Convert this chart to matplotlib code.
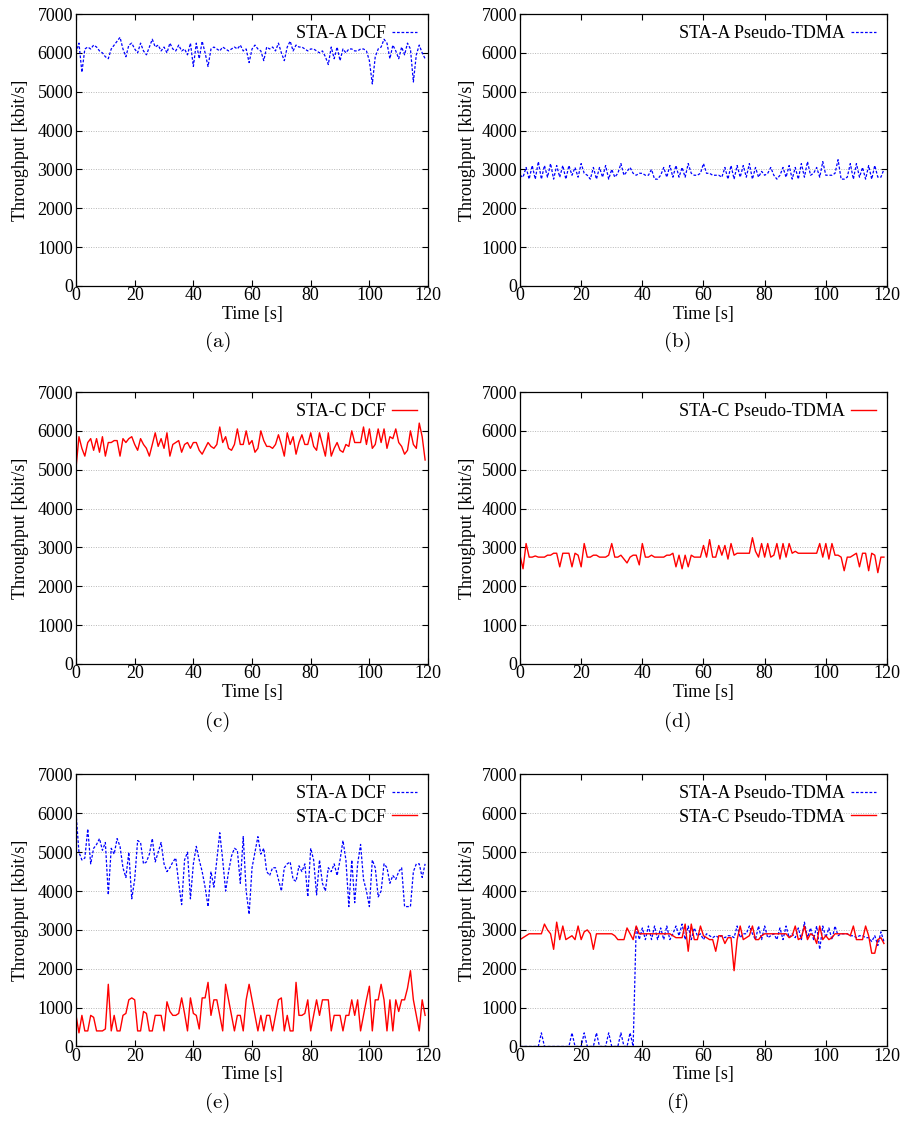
import matplotlib.pyplot as plt
import numpy as np

plt.rcParams['font.family'] = ['Liberation Serif', 'DejaVu Serif']
plt.rcParams['font.size'] = 13

# time axis, one sample per second
t = np.arange(120)

# (a) STA-A, DCF
sta_a_dcf = [6000, 6250, 5500, 6100, 6150, 6100, 6200, 6150, 6050, 6000,
             5900, 5850, 6100, 6200, 6300, 6400, 6100, 5900, 6200, 6250,
             6100, 6000, 6250, 6050, 5950, 6150, 6350, 6150, 6200, 6050,
             6150, 6000, 6250, 6100, 6050, 6200, 6050, 6100, 5950, 6250,
             5650, 6250, 5850, 6300, 6000, 5650, 6100, 6150, 6100, 6050,
             6150, 6100, 6050, 6100, 6150, 6100, 6200, 6050, 6100, 5750,
             6100, 6200, 6100, 6050, 5800, 6150, 6100, 6150, 6050, 6250,
             6000, 5800, 6150, 6300, 6050, 6200, 6150, 6150, 6100, 6050,
             6100, 6100, 6050, 6000, 6050, 5900, 5700, 6150, 5850, 6150,
             5800, 6100, 6000, 6100, 6100, 6050, 6050, 6100, 6100, 6050,
             5800, 5200, 5900, 6100, 6150, 6350, 6250, 5850, 6200, 6050,
             5850, 6150, 5950, 6250, 6100, 5250, 5950, 6200, 6000, 5850]

# (b) STA-A, Pseudo-TDMA
sta_a_tdma = [2850, 2800, 3050, 2750, 3100, 2750, 3200, 2750, 3100, 2800,
              3150, 2750, 3100, 2800, 3100, 2750, 3100, 2850, 3050, 2800,
              3150, 2900, 2850, 2750, 3050, 2750, 3050, 2800, 3100, 2750,
              3000, 2800, 2900, 3150, 2850, 2950, 3050, 2900, 2850, 2900,
              2900, 2850, 2850, 3000, 2750, 2750, 2850, 3050, 2800, 3100,
              2800, 3100, 2800, 3050, 2800, 3150, 2900, 2850, 2850, 2900,
              3150, 2900, 2900, 2850, 2850, 2850, 2800, 3050, 2750, 3100,
              2750, 3100, 2800, 3100, 2800, 3150, 2750, 3050, 2800, 2950,
              2850, 2900, 3050, 2850, 2750, 2850, 3050, 2800, 3100, 2750,
              3050, 2750, 3150, 2800, 3200, 2850, 2900, 3050, 2800, 3200,
              2850, 2850, 2850, 2900, 3250, 2750, 2750, 2800, 3150, 2750,
              3150, 2800, 3050, 2750, 3100, 2750, 3100, 2800, 2800, 3000]

# (c) STA-C, DCF
sta_c_dcf = [5050, 5850, 5550, 5350, 5700, 5800, 5500, 5800, 5450, 5850,
             5350, 5700, 5700, 5750, 5750, 5350, 5800, 5700, 5800, 5850,
             5650, 5500, 5800, 5650, 5550, 5350, 5650, 5950, 5600, 5800,
             5550, 5950, 5350, 5650, 5700, 5750, 5450, 5650, 5700, 5550,
             5700, 5700, 5500, 5400, 5550, 5700, 5600, 5550, 5650, 6100,
             5700, 5850, 5550, 5500, 5650, 6050, 5650, 5650, 6000, 5650,
             5750, 5450, 5550, 6000, 5750, 5600, 5600, 5550, 5650, 5900,
             5650, 5350, 5950, 5650, 5850, 5400, 5700, 5900, 5650, 5650,
             5950, 5600, 5500, 5950, 5650, 5350, 5950, 5350, 5550, 5700,
             5500, 5450, 5650, 5600, 6000, 5700, 5700, 5700, 6100, 5650,
             6050, 5550, 5650, 6050, 5700, 6050, 5550, 5850, 5800, 6050,
             5700, 5600, 5400, 5500, 6000, 5650, 5550, 6200, 5850, 5250]

# (d) STA-C, Pseudo-TDMA
sta_c_tdma = [2800, 2450, 3100, 2750, 2750, 2780, 2750, 2750, 2750, 2800,
              2800, 2850, 2850, 2500, 2850, 2850, 2850, 2500, 2850, 2800,
              2500, 3100, 2750, 2750, 2800, 2800, 2750, 2750, 2750, 2800,
              3100, 2750, 2750, 2800, 2700, 2600, 2750, 2800, 2800, 2550,
              3100, 2750, 2750, 2800, 2750, 2750, 2750, 2750, 2800, 2800,
              2850, 2500, 2800, 2450, 2800, 2500, 2800, 2750, 2750, 2750,
              3050, 2750, 3200, 2750, 2750, 3050, 2800, 3050, 2700, 3100,
              2800, 2850, 2850, 2850, 2850, 2850, 3250, 2900, 2750, 3100,
              2750, 3100, 2750, 2800, 3100, 2700, 3100, 2750, 3100, 2850,
              2900, 2850, 2850, 2850, 2850, 2850, 2850, 2850, 3100, 2750,
              3100, 2700, 3100, 2800, 2800, 2750, 2400, 2750, 2750, 2800,
              2850, 2500, 2850, 2850, 2400, 2850, 2800, 2350, 2750, 2750]

# (e) both stations, DCF
mix_a_dcf = [6000, 5000, 4800, 4850, 5600, 4700, 5100, 5200, 5350, 5050,
             5250, 3900, 5100, 4950, 5350, 5150, 4600, 4350, 5000, 3800,
             4300, 5300, 5250, 4700, 4750, 4950, 5350, 4750, 5000, 5250,
             4700, 4500, 4600, 4750, 4850, 4200, 3650, 4800, 5000, 3800,
             4700, 5150, 4800, 4500, 4100, 3600, 4500, 4100, 4800, 5500,
             4800, 4000, 4500, 4900, 5100, 5050, 4200, 5400, 4000, 3400,
             4600, 5000, 5400, 4950, 5100, 4500, 4400, 4600, 4600, 4300,
             4000, 4600, 4700, 4750, 4300, 4250, 4650, 4500, 4700, 3850,
             5100, 4800, 3900, 4800, 4200, 4000, 4600, 4500, 4700, 4400,
             4800, 5300, 4800, 3600, 4800, 3700, 4700, 5200, 4300, 4000,
             3600, 4800, 4600, 3850, 4000, 4700, 4600, 4200, 4400, 4300,
             4500, 4600, 3600, 3600, 3600, 4500, 4700, 4700, 4350, 4700]
mix_c_dcf = [800, 350, 800, 400, 400, 800, 750, 400, 400, 400,
             450, 1600, 400, 800, 400, 400, 800, 850, 1200, 1250,
             1200, 400, 400, 900, 850, 400, 400, 800, 800, 800,
             400, 1150, 900, 800, 800, 850, 1250, 850, 400, 1250,
             850, 800, 450, 1250, 1250, 1650, 800, 1200, 1200, 800,
             400, 1600, 1200, 800, 400, 800, 800, 400, 1200, 1600,
             1200, 800, 400, 800, 400, 800, 800, 400, 800, 1200,
             1250, 400, 800, 400, 400, 1650, 800, 800, 850, 1200,
             400, 800, 1200, 800, 1200, 1200, 1200, 400, 800, 800,
             800, 400, 800, 800, 1200, 800, 1200, 400, 800, 1200,
             1550, 400, 1200, 1200, 1600, 1200, 400, 1200, 400, 1200,
             900, 1200, 1200, 1500, 1950, 1200, 800, 400, 1200, 800]

# (f) both stations, Pseudo-TDMA
mix_a_tdma = [0, 0, 0, 0, 0, 0, 0, 350, 0, 0,
              0, 0, 0, 0, 0, 0, 0, 350, 0, 0,
              0, 350, 0, 0, 0, 350, 0, 0, 0, 350,
              0, 0, 0, 350, 0, 0, 350, 0, 3100, 2750,
              3050, 2750, 3100, 2750, 3100, 2750, 3050, 2750, 3100, 2750,
              2900, 3100, 2850, 3150, 2750, 3100, 2750, 3050, 2850, 2900,
              2750, 2900, 2850, 2800, 2850, 2800, 2850, 2800, 2850, 2850,
              2800, 3100, 2800, 2900, 2900, 3100, 2900, 2750, 3100, 2750,
              3100, 2800, 2850, 2900, 2750, 3050, 2750, 3100, 2800, 2900,
              2800, 3050, 2750, 3200, 2800, 3050, 2750, 3100, 2500, 3100,
              2800, 3050, 2750, 3100, 2850, 2900, 2900, 2900, 2850, 2850,
              2800, 2850, 2850, 2800, 2800, 2700, 2850, 2600, 2950, 2700]
mix_c_tdma = [2750, 2800, 2850, 2900, 2900, 2900, 2900, 2900, 3150, 3000,
              2900, 2500, 3200, 2750, 3100, 2750, 2800, 2850, 2750, 3100,
              2750, 2950, 3000, 2900, 2500, 2900, 2900, 2900, 2900, 2900,
              2900, 2850, 2750, 2750, 2750, 3050, 2900, 2750, 3100, 2900,
              2900, 2900, 2900, 2900, 2900, 2900, 2900, 2900, 2900, 2900,
              2850, 2800, 2800, 2800, 3150, 2450, 3150, 2750, 2750, 3100,
              2850, 2800, 2750, 2750, 2450, 2850, 2850, 2650, 2800, 2800,
              1950, 2750, 3100, 2750, 2800, 2850, 3100, 2750, 2750, 2850,
              2900, 2900, 2900, 2900, 2900, 2900, 2900, 2900, 2800, 2850,
              3100, 2750, 2800, 3100, 2750, 2900, 2850, 2650, 3100, 2750,
              2850, 2750, 2800, 2900, 2900, 2900, 2900, 2900, 2850, 3100,
              2750, 2750, 2750, 3100, 2850, 2400, 2400, 2750, 2800, 2650]

xticks = [0, 20, 40, 60, 80, 100, 120]
yticks = [0, 1000, 2000, 3000, 4000, 5000, 6000, 7000]

blue = dict(color='#0000ff', lw=0.9, ls=(0, (2.2, 1.4)))
red = dict(color='#ff0000', lw=1.0, ls='-')

fig = plt.figure(figsize=(9.04, 11.21), dpi=100)

col_x = [(0.0841, 0.3894), (0.5752, 0.4060)]
row_y = [0.7449, 0.4077, 0.0665]
h = 0.2426

panels = [
    [('STA-A DCF', sta_a_dcf, blue)],
    [('STA-A Pseudo-TDMA', sta_a_tdma, blue)],
    [('STA-C DCF', sta_c_dcf, red)],
    [('STA-C Pseudo-TDMA', sta_c_tdma, red)],
    [('STA-A DCF', mix_a_dcf, blue), ('STA-C DCF', mix_c_dcf, red)],
    [('STA-A Pseudo-TDMA', mix_a_tdma, blue), ('STA-C Pseudo-TDMA', mix_c_tdma, red)],
]
captions = ['(a)', '(b)', '(c)', '(d)', '(e)', '(f)']

for i, series in enumerate(panels):
    r, c = divmod(i, 2)
    left, w = col_x[c]
    ax = fig.add_axes([left, row_y[r], w, h])
    for label, vals, style in series:
        ax.plot(t, vals, label=label, **style)
    ax.set_xlim(0, 120)
    ax.set_ylim(0, 7000)
    ax.set_xticks(xticks)
    ax.set_yticks(yticks)
    ax.tick_params(direction='in', top=True, right=True, length=4, width=0.8,
                   labelsize=13, pad=2)
    ax.tick_params(axis='x', pad=1)
    ax.grid(axis='y', color='#b8b8b8', lw=0.7, ls=(0, (1, 1.5)))
    ax.set_axisbelow(True)
    for s in ax.spines.values():
        s.set_linewidth(0.9)
    ax.set_xlabel('Time [s]', fontsize=13)
    ax.xaxis.set_label_coords(0.5, -0.072)
    ax.set_ylabel('Throughput [kbit/s]', fontsize=13)
    ax.yaxis.set_label_coords(-0.135 if c == 0 else -0.12, 0.5)
    ax.legend(loc='upper right', frameon=False, markerfirst=False, fontsize=13,
              handlelength=1.4, handletextpad=0.35, borderpad=0.2,
              borderaxespad=0.4, labelspacing=0.35)
    cx = 218 / 904 if c == 0 else 678 / 904
    cy = 1 - [342, 722, 1103][r] / 1121
    fig.text(cx, cy, captions[i], ha='center', va='center', fontsize=15,
             family='cmr10')

fig.savefig('out.png', dpi=100)
